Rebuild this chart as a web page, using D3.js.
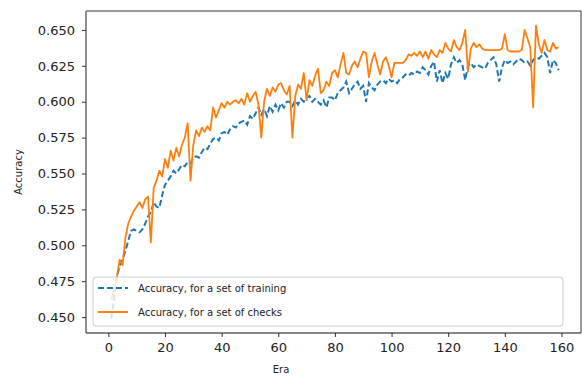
<!DOCTYPE html>
<html>
<head>
<meta charset="utf-8">
<script src="https://cdn.jsdelivr.net/npm/d3@7"></script>
<style>
  body { margin: 0; background: #fff; }
  svg text { font-family: "DejaVu Sans", sans-serif; fill: #222; }
</style>
</head>
<body>
<div id="chart"></div>
<script>
// accuracy per era (eras 1..159)
var trainAcc = [
  0.449, 0.462, 0.478, 0.486, 0.490, 0.496, 0.503, 0.510, 0.511, 0.510,
  0.509, 0.511, 0.515, 0.520, 0.523, 0.530, 0.527, 0.526, 0.535, 0.542,
  0.545, 0.548, 0.552, 0.550, 0.553, 0.556, 0.555, 0.558, 0.557, 0.561,
  0.562, 0.561, 0.565, 0.568, 0.567, 0.571, 0.574, 0.575, 0.573, 0.578,
  0.579, 0.577, 0.581, 0.583, 0.582, 0.585, 0.586, 0.587, 0.584, 0.590,
  0.588, 0.592, 0.596, 0.591, 0.595, 0.590, 0.597, 0.593, 0.598, 0.594,
  0.599, 0.596, 0.600, 0.600, 0.597, 0.601, 0.598, 0.602, 0.600, 0.603,
  0.604, 0.600, 0.602, 0.600, 0.598, 0.601, 0.596, 0.603, 0.603, 0.601,
  0.606, 0.608, 0.610, 0.614, 0.606, 0.609, 0.612, 0.614, 0.609, 0.611,
  0.600, 0.613, 0.610, 0.608, 0.612, 0.614, 0.615, 0.613, 0.616, 0.614,
  0.615, 0.613, 0.616, 0.617, 0.619, 0.618, 0.620, 0.619, 0.621, 0.620,
  0.624, 0.622, 0.619, 0.625, 0.628, 0.614, 0.622, 0.613, 0.620, 0.616,
  0.626, 0.631, 0.627, 0.629, 0.626, 0.615, 0.625, 0.627, 0.624, 0.626,
  0.625, 0.624, 0.623, 0.627, 0.629, 0.631, 0.626, 0.614, 0.624, 0.629,
  0.627, 0.628, 0.626, 0.628, 0.630, 0.629, 0.627, 0.628, 0.625, 0.629,
  0.631, 0.630, 0.632, 0.634, 0.631, 0.620, 0.629, 0.627, 0.622
];
var checkAcc = [
  0.462, 0.470, 0.478, 0.490, 0.486, 0.505, 0.515, 0.520, 0.524, 0.527,
  0.530, 0.526, 0.532, 0.534, 0.502, 0.540, 0.545, 0.552, 0.548, 0.560,
  0.554, 0.566, 0.559, 0.568, 0.562, 0.570, 0.575, 0.585, 0.545, 0.570,
  0.580, 0.576, 0.582, 0.579, 0.583, 0.580, 0.596, 0.589, 0.594, 0.599,
  0.596, 0.600, 0.598, 0.600, 0.601, 0.599, 0.602, 0.598, 0.606, 0.600,
  0.604, 0.607, 0.598, 0.575, 0.600, 0.609, 0.604, 0.610, 0.607, 0.612,
  0.613, 0.608, 0.605, 0.611, 0.575, 0.604, 0.612, 0.609, 0.620, 0.601,
  0.615, 0.611, 0.618, 0.623, 0.606, 0.608, 0.614, 0.611, 0.620, 0.622,
  0.617, 0.626, 0.634, 0.620, 0.619, 0.625, 0.628, 0.624, 0.630, 0.635,
  0.634, 0.617, 0.628, 0.634, 0.626, 0.619, 0.628, 0.631, 0.625, 0.617,
  0.627, 0.627, 0.627, 0.627, 0.629, 0.633, 0.632, 0.634, 0.632, 0.635,
  0.631, 0.635, 0.630, 0.636, 0.633, 0.631, 0.636, 0.634, 0.641, 0.637,
  0.635, 0.643, 0.638, 0.636, 0.641, 0.650, 0.621, 0.637, 0.641, 0.638,
  0.640, 0.637, 0.636, 0.636, 0.636, 0.636, 0.636, 0.636, 0.637, 0.647,
  0.636, 0.635, 0.635, 0.635, 0.635, 0.636, 0.650, 0.644, 0.638, 0.596,
  0.653, 0.640, 0.634, 0.643, 0.636, 0.635, 0.641, 0.637, 0.638
];
var xTicks = [0, 20, 40, 60, 80, 100, 120, 140, 160];
var yTicks = [0.450, 0.475, 0.500, 0.525, 0.550, 0.575, 0.600, 0.625, 0.650];
var seriesNames = ["Accuracy, for a set of training", "Accuracy, for a set of checks"];
var eras = d3.range(1, trainAcc.length + 1);

var width = 582, height = 376;
var pL = 86, pR = 581, pT = 11, pB = 333;
var blue = "#1f77b4", orange = "#ff7f0e";

var svg = d3.select("#chart").append("svg")
    .attr("width", width)
    .attr("height", height);

var x = d3.scaleLinear().domain([-7.9, 166.9]).range([pL, pR]);
var y = d3.scaleLinear().domain([0.4389, 0.6632]).range([pB, pT]);

// lines
var line = d3.line()
    .x(function (d, i) { return x(eras[i]); })
    .y(function (d) { return y(d); });

var plot = svg.append("g");
plot.append("path")
    .datum(trainAcc)
    .attr("fill", "none")
    .attr("stroke", blue)
    .attr("stroke-width", 2)
    .attr("stroke-dasharray", "6,3")
    .attr("d", line);
plot.append("path")
    .datum(checkAcc)
    .attr("fill", "none")
    .attr("stroke", orange)
    .attr("stroke-width", 1.8)
    .attr("stroke-linejoin", "round")
    .attr("d", line);

// axes
var xAxis = svg.append("g")
    .attr("transform", "translate(0," + pB + ")")
    .call(d3.axisBottom(x).tickValues(xTicks).tickSize(4).tickPadding(6).tickFormat(d3.format("d")));
var yAxis = svg.append("g")
    .attr("transform", "translate(" + pL + ",0)")
    .call(d3.axisLeft(y).tickValues(yTicks).tickSize(4).tickPadding(7).tickFormat(d3.format(".3f")));
[xAxis, yAxis].forEach(function (a) {
    a.select(".domain").remove();
    a.selectAll(".tick line").attr("stroke", "#333");
    a.selectAll(".tick text").attr("font-size", 13).style("font-family", "DejaVu Sans");
});

// frame
svg.append("line").attr("x1", pL).attr("x2", pR).attr("y1", pB).attr("y2", pB)
    .attr("stroke", "#111").attr("stroke-width", 1.2);
svg.append("line").attr("x1", pL).attr("x2", pL).attr("y1", pT).attr("y2", pB)
    .attr("stroke", "#444").attr("stroke-width", 1.2);
svg.append("line").attr("x1", pL).attr("x2", pR).attr("y1", pT).attr("y2", pT)
    .attr("stroke", "#777").attr("stroke-width", 1.5);
svg.append("line").attr("x1", pR).attr("x2", pR).attr("y1", pT).attr("y2", pB)
    .attr("stroke", "#555").attr("stroke-width", 1.2);

// axis labels
svg.append("text")
    .attr("transform", "translate(22," + ((pT + pB) / 2) + ") rotate(-90)")
    .attr("text-anchor", "middle")
    .attr("font-size", 10)
    .text("Accuracy");
svg.append("text")
    .attr("x", 281).attr("y", 373)
    .attr("text-anchor", "middle")
    .attr("font-size", 10)
    .text("Era");

// legend
var legend = svg.append("g");
legend.append("rect")
    .attr("x", 93).attr("y", 277)
    .attr("width", 470).attr("height", 49)
    .attr("rx", 3)
    .attr("fill", "#fff").attr("fill-opacity", 0.8)
    .attr("stroke", "#ccc");
var rows = legend.selectAll(".row")
    .data(seriesNames)
    .enter().append("g")
    .attr("transform", function (d, i) { return "translate(0," + (288 + i * 24) + ")"; });
rows.append("line")
    .attr("x1", 98).attr("x2", 128)
    .attr("stroke", function (d, i) { return i == 0 ? blue : orange; })
    .attr("stroke-width", 2)
    .attr("stroke-dasharray", function (d, i) { return i == 0 ? "6,3" : null; });
rows.append("text")
    .attr("x", 138).attr("dy", "0.35em")
    .attr("font-size", 10)
    .text(function (d) { return d; });
</script>
</body>
</html>
